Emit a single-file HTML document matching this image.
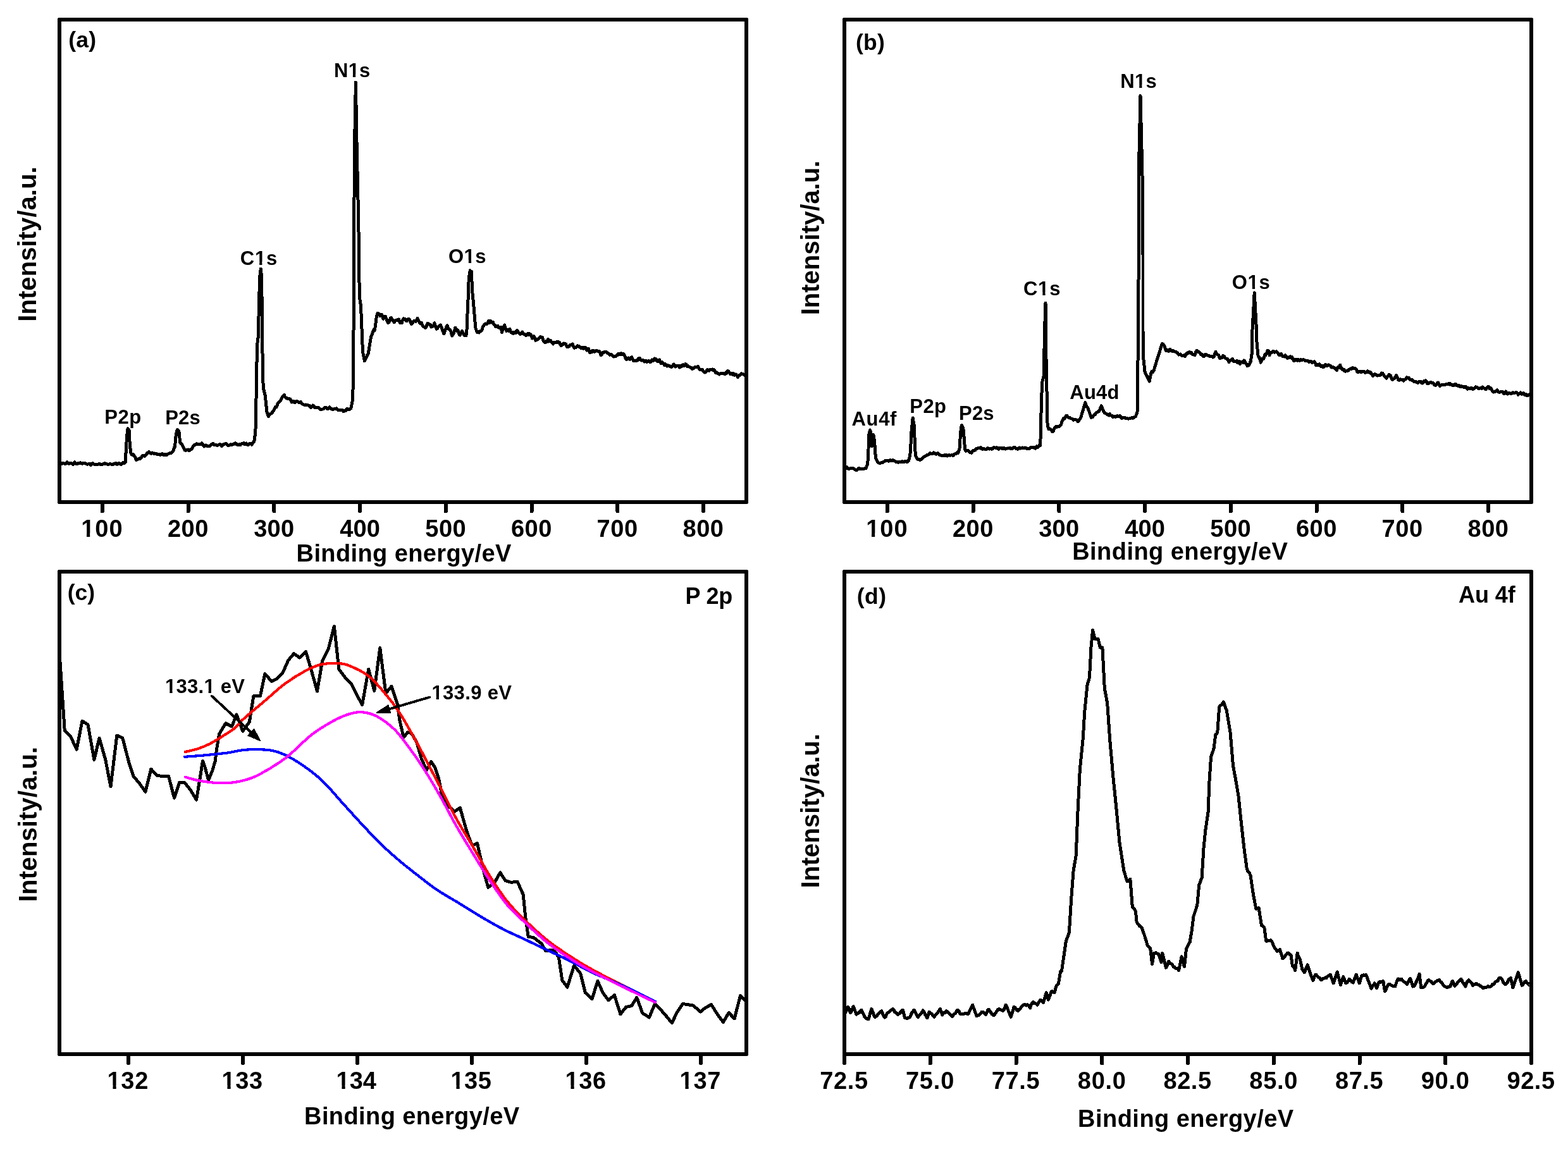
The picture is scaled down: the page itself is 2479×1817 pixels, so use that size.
<!DOCTYPE html><html><head><meta charset="utf-8"><title>XPS spectra</title>
<style>html,body{margin:0;padding:0;background:#fff;overflow:hidden;}svg{display:block;}text{font-family:'Liberation Sans', Arial, Helvetica, sans-serif;font-weight:bold;fill:#000;}</style></head><body>
<svg width="2479" height="1817" viewBox="0 0 2479 1817" shape-rendering="crispEdges">
<rect x="0" y="0" width="2479" height="1817" fill="#fff"/>
<rect x="94" y="31" width="1086" height="763" fill="none" stroke="#000" stroke-width="6" stroke-linejoin="round"/>
<rect x="1335" y="31" width="1086" height="763" fill="none" stroke="#000" stroke-width="6" stroke-linejoin="round"/>
<rect x="94" y="903.5" width="1086" height="763.5" fill="none" stroke="#000" stroke-width="6" stroke-linejoin="round"/>
<rect x="1335" y="903.5" width="1086" height="763.5" fill="none" stroke="#000" stroke-width="6" stroke-linejoin="round"/>
<path d="M161.9 794 V808.5 M297.6 794 V808.5 M433.4 794 V808.5 M569.1 794 V808.5 M704.9 794 V808.5 M840.6 794 V808.5 M976.4 794 V808.5 M1112.1 794 V808.5 " stroke="#000" stroke-width="6" stroke-linecap="round" fill="none"/>
<clipPath id="f1"><path clip-rule="evenodd" d="M0 0H2479V1817H0Z M129.62 843.32H137.00V850.00H129.62Z M142.21 843.32H149.11V850.00H142.21Z"/></clipPath>
<text x="128.13" y="848.5" font-size="38" letter-spacing="1.03" clip-path="url(#f1)">100</text>
<text x="264.96" y="848.5" font-size="38" letter-spacing="0.49">200</text>
<text x="401.15" y="848.5" font-size="38" letter-spacing="0.26">300</text>
<text x="537.20" y="848.5" font-size="38" letter-spacing="0.12">400</text>
<text x="672.36" y="848.5" font-size="38" letter-spacing="0.41">500</text>
<text x="807.88" y="848.5" font-size="38" letter-spacing="0.52">600</text>
<text x="943.39" y="848.5" font-size="38" letter-spacing="0.65">700</text>
<text x="1079.57" y="848.5" font-size="38" letter-spacing="0.43">800</text>
<path d="M1402.9 794 V808.5 M1538.6 794 V808.5 M1674.4 794 V808.5 M1810.1 794 V808.5 M1945.9 794 V808.5 M2081.6 794 V808.5 M2217.4 794 V808.5 M2353.1 794 V808.5 " stroke="#000" stroke-width="6" stroke-linecap="round" fill="none"/>
<clipPath id="f2"><path clip-rule="evenodd" d="M0 0H2479V1817H0Z M1370.62 843.32H1378.00V850.00H1370.62Z M1383.21 843.32H1390.11V850.00H1383.21Z"/></clipPath>
<text x="1369.13" y="848.5" font-size="38" letter-spacing="1.03" clip-path="url(#f2)">100</text>
<text x="1505.96" y="848.5" font-size="38" letter-spacing="0.49">200</text>
<text x="1642.15" y="848.5" font-size="38" letter-spacing="0.26">300</text>
<text x="1778.20" y="848.5" font-size="38" letter-spacing="0.12">400</text>
<text x="1913.36" y="848.5" font-size="38" letter-spacing="0.41">500</text>
<text x="2048.88" y="848.5" font-size="38" letter-spacing="0.52">600</text>
<text x="2184.39" y="848.5" font-size="38" letter-spacing="0.65">700</text>
<text x="2320.57" y="848.5" font-size="38" letter-spacing="0.43">800</text>
<path d="M203 1667 V1681.5 M384 1667 V1681.5 M565 1667 V1681.5 M746 1667 V1681.5 M927 1667 V1681.5 M1108 1667 V1681.5 " stroke="#000" stroke-width="6" stroke-linecap="round" fill="none"/>
<clipPath id="f3"><path clip-rule="evenodd" d="M0 0H2479V1817H0Z M171.06 1716.62H178.44V1723.30H171.06Z M183.65 1716.62H190.54V1723.30H183.65Z"/></clipPath>
<text x="169.57" y="1721.8" font-size="38" letter-spacing="0.66" clip-path="url(#f3)">132</text>
<clipPath id="f4"><path clip-rule="evenodd" d="M0 0H2479V1817H0Z M352.06 1716.62H359.44V1723.30H352.06Z M364.65 1716.62H371.54V1723.30H364.65Z"/></clipPath>
<text x="350.57" y="1721.8" font-size="38" letter-spacing="0.58" clip-path="url(#f4)">133</text>
<clipPath id="f5"><path clip-rule="evenodd" d="M0 0H2479V1817H0Z M533.06 1716.62H540.44V1723.30H533.06Z M545.65 1716.62H552.54V1723.30H545.65Z"/></clipPath>
<text x="531.57" y="1721.8" font-size="38" clip-path="url(#f5)">134</text>
<clipPath id="f6"><path clip-rule="evenodd" d="M0 0H2479V1817H0Z M714.06 1716.62H721.44V1723.30H714.06Z M726.65 1716.62H733.54V1723.30H726.65Z"/></clipPath>
<text x="712.57" y="1721.8" font-size="38" letter-spacing="0.42" clip-path="url(#f6)">135</text>
<clipPath id="f7"><path clip-rule="evenodd" d="M0 0H2479V1817H0Z M895.06 1716.62H902.44V1723.30H895.06Z M907.65 1716.62H914.54V1723.30H907.65Z"/></clipPath>
<text x="893.57" y="1721.8" font-size="38" letter-spacing="0.58" clip-path="url(#f7)">136</text>
<clipPath id="f8"><path clip-rule="evenodd" d="M0 0H2479V1817H0Z M1076.06 1716.62H1083.44V1723.30H1076.06Z M1088.65 1716.62H1095.54V1723.30H1088.65Z"/></clipPath>
<text x="1074.57" y="1721.8" font-size="38" letter-spacing="0.73" clip-path="url(#f8)">137</text>
<path d="M1335 1667 V1681.5 M1470.8 1667 V1681.5 M1606.5 1667 V1681.5 M1742.2 1667 V1681.5 M1878 1667 V1681.5 M2013.8 1667 V1681.5 M2149.5 1667 V1681.5 M2285.2 1667 V1681.5 M2421 1667 V1681.5 " stroke="#000" stroke-width="6" stroke-linecap="round" fill="none"/>
<text x="1296.17" y="1721.8" font-size="38" letter-spacing="0.64">72.5</text>
<text x="1431.92" y="1721.8" font-size="38" letter-spacing="0.81">75.0</text>
<text x="1567.67" y="1721.8" font-size="38" letter-spacing="0.64">77.5</text>
<text x="1703.84" y="1721.8" font-size="38" letter-spacing="0.67">80.0</text>
<text x="1839.59" y="1721.8" font-size="38" letter-spacing="0.50">82.5</text>
<text x="1975.34" y="1721.8" font-size="38" letter-spacing="0.67">85.0</text>
<text x="2111.09" y="1721.8" font-size="38" letter-spacing="0.50">87.5</text>
<text x="2246.73" y="1721.8" font-size="38" letter-spacing="0.71">90.0</text>
<text x="2382.48" y="1721.8" font-size="38" letter-spacing="0.54">92.5</text>
<text x="468.56" y="887.7" font-size="38" letter-spacing="0.39">Binding energy/eV</text>
<text x="1695.16" y="884.7" font-size="38" letter-spacing="0.45">Binding energy/eV</text>
<text x="481.06" y="1777.8" font-size="38" letter-spacing="0.40">Binding energy/eV</text>
<text x="1704.06" y="1782" font-size="38" letter-spacing="0.47">Binding energy/eV</text>
<text transform="translate(56.9 508.68) rotate(-90)" x="0" y="0" font-size="40" letter-spacing="0.06">Intensity/a.u.</text>
<text transform="translate(1294.9 498.28) rotate(-90)" x="0" y="0" font-size="40">Intensity/a.u.</text>
<text transform="translate(57.6 1426.28) rotate(-90)" x="0" y="0" font-size="40" letter-spacing="0.06">Intensity/a.u.</text>
<text transform="translate(1294.9 1404.58) rotate(-90)" x="0" y="0" font-size="40">Intensity/a.u.</text>
<text x="108.23" y="75" font-size="35.5" letter-spacing="0.22">(a)</text>
<text x="1353.03" y="78.6" font-size="35.5" letter-spacing="0.20">(b)</text>
<text x="106.73" y="948.5" font-size="35.5" letter-spacing="-0.03">(c)</text>
<text x="1354.83" y="955" font-size="35.5" letter-spacing="0.40">(d)</text>
<text x="1083.39" y="954.7" font-size="36" letter-spacing="-0.18">P 2p</text>
<text x="2306.00" y="952.9" font-size="36" letter-spacing="-0.07">Au 4f</text>
<clipPath id="f9"><path clip-rule="evenodd" d="M0 0H2479V1817H0Z M551.70 117.44H557.89V123.40H551.70Z M562.14 117.44H567.93V123.40H562.14Z"/></clipPath>
<text x="528.03" y="121.9" font-size="31" letter-spacing="0.24" clip-path="url(#f9)">N1s</text>
<clipPath id="f10"><path clip-rule="evenodd" d="M0 0H2479V1817H0Z M403.96 414.04H410.14V420.00H403.96Z M414.39 414.04H420.18V420.00H414.39Z"/></clipPath>
<text x="379.73" y="418.5" font-size="31" letter-spacing="0.79" clip-path="url(#f10)">C1s</text>
<clipPath id="f11"><path clip-rule="evenodd" d="M0 0H2479V1817H0Z M734.67 411.34H740.85V417.30H734.67Z M745.10 411.34H750.89V417.30H745.10Z"/></clipPath>
<text x="709.03" y="415.8" font-size="31" letter-spacing="0.47" clip-path="url(#f11)">O1s</text>
<text x="165.23" y="670.1" font-size="31" letter-spacing="0.50">P2p</text>
<text x="261.23" y="670.9" font-size="31" letter-spacing="0.19">P2s</text>
<text x="1346.43" y="672.6" font-size="31" letter-spacing="0.71">Au4f</text>
<text x="1438.33" y="652.6" font-size="31" letter-spacing="0.40">P2p</text>
<text x="1516.03" y="663.9" font-size="31" letter-spacing="0.19">P2s</text>
<clipPath id="f12"><path clip-rule="evenodd" d="M0 0H2479V1817H0Z M1642.16 462.14H1648.34V468.10H1642.16Z M1652.59 462.14H1658.38V468.10H1652.59Z"/></clipPath>
<text x="1617.93" y="466.6" font-size="31" letter-spacing="0.79" clip-path="url(#f12)">C1s</text>
<text x="1691.23" y="630.7" font-size="31" letter-spacing="0.27">Au4d</text>
<clipPath id="f13"><path clip-rule="evenodd" d="M0 0H2479V1817H0Z M1795.00 134.44H1801.19V140.40H1795.00Z M1805.44 134.44H1811.23V140.40H1805.44Z"/></clipPath>
<text x="1771.23" y="138.9" font-size="31" letter-spacing="0.34" clip-path="url(#f13)">N1s</text>
<clipPath id="f14"><path clip-rule="evenodd" d="M0 0H2479V1817H0Z M1973.67 452.24H1979.85V458.20H1973.67Z M1984.10 452.24H1989.89V458.20H1984.10Z"/></clipPath>
<text x="1947.83" y="456.7" font-size="31" letter-spacing="0.67" clip-path="url(#f14)">O1s</text>
<clipPath id="f15"><path clip-rule="evenodd" d="M0 0H2479V1817H0Z M262.10 1091.44H268.28V1097.40H262.10Z M272.54 1091.44H278.33V1097.40H272.54Z M323.44 1091.44H329.62V1097.40H323.44Z M333.88 1091.44H339.67V1097.40H333.88Z"/></clipPath>
<text x="261.05" y="1095.9" font-size="31" letter-spacing="0.25" clip-path="url(#f15)">133.1 eV</text>
<clipPath id="f16"><path clip-rule="evenodd" d="M0 0H2479V1817H0Z M683.50 1101.74H689.68V1107.70H683.50Z M693.94 1101.74H699.73V1107.70H693.94Z"/></clipPath>
<text x="682.45" y="1106.2" font-size="31" letter-spacing="0.35" clip-path="url(#f16)">133.9 eV</text>
<path d="M95 733 L96.4 734.1 L97.7 733 L99.1 732.4 L100.5 732.7 L101.8 733 L103.2 733.6 L104.5 732.5 L105.9 731 L107.3 732.4 L108.6 733.2 L110 732.6 L111.3 733 L112.7 732.6 L114 733.1 L115.3 734.4 L116.7 732.7 L118 731 L119.3 732.1 L120.6 733.9 L122 733.6 L123.3 732.3 L124.6 732.4 L126 732.1 L127.3 731.7 L128.6 732.6 L129.9 733.1 L131.3 732.8 L132.6 732.3 L133.9 732.3 L135.3 732.8 L136.6 733.5 L138 734.3 L139.4 733.9 L140.8 733.2 L142.1 733.9 L143.5 735.2 L144.9 733.5 L146.3 732.5 L147.7 733.7 L149.1 734.4 L150.5 734.8 L151.9 734.3 L153.2 734.1 L154.6 734.6 L156 733.6 L157.4 733.4 L158.8 734.5 L160.2 735 L161.6 734.3 L163 733.8 L164.3 733 L165.7 732.3 L167.1 733.8 L168.5 733.7 L169.8 734.2 L171.2 734.5 L172.5 733.9 L173.8 733.5 L175.2 733.8 L176.5 734.5 L177.8 734.6 L179.2 733.9 L180.5 733.9 L181.8 733.2 L183.2 732.4 L184.5 734.2 L185.9 733.9 L187.3 732.8 L188.8 732.8 L190.2 734.1 L191.6 734.3 L193 732.6 L194.3 731.6 L195.7 732.5 L197 732.1 L198.3 730.5 L199.4 709.2 L200.5 691.1 L202 677.8 L203.1 680.5 L204.2 680.5 L205.3 703.9 L206.9 716.7 L208.3 718.9 L209.7 719.5 L211.1 718.8 L212.5 721.6 L214 723.4 L215.4 727.3 L216.7 726.3 L218 726.4 L219.2 725.7 L220.5 725 L221.8 725.2 L223.1 724.3 L224.4 722 L225.8 720.4 L227.1 720.9 L228.4 721.3 L229.8 720.1 L231.1 719.1 L232.4 716.7 L233.7 716.3 L235.1 714.9 L236.4 714.9 L237.8 716.6 L239.1 717.2 L240.4 715.9 L241.8 716.8 L243.1 717.5 L244.4 717 L245.8 717.3 L247.1 717 L248.4 718.4 L249.7 719 L251 718.4 L252.4 718.6 L253.7 719.3 L255 718.4 L256.4 717.7 L257.7 719.1 L259 719.9 L260.4 718.4 L261.7 718.5 L263.1 719.8 L264.4 718.8 L265.8 717.8 L267.2 717.1 L268.6 716.4 L270.1 716.8 L271.5 715.7 L272.9 714.5 L274.1 712.4 L275.4 708.2 L276.6 706 L278.2 687.9 L280.3 679.4 L281.6 680.7 L283 682.6 L284.6 699.6 L286.2 701.8 L287.8 702.8 L289.1 705.6 L290.5 708.2 L291.8 711.5 L293.1 712.4 L294.5 711.8 L295.9 711.5 L297.4 711 L298.8 712.8 L300.2 711.9 L301.6 710.3 L303 710.2 L304.3 707.6 L305.6 705.2 L307 703.9 L308.3 704 L309.6 702.6 L311 701.6 L312.3 702.6 L313.6 702.8 L315 702.2 L316.3 702.1 L317.6 702.3 L318.9 700.9 L320.2 702.1 L321.6 704.4 L322.9 706 L324.2 704.9 L325.6 704 L326.9 705.3 L328.2 706 L329.6 705.7 L331.1 705.7 L332.6 704 L334 702.8 L335.4 702.4 L336.8 701.2 L338.2 703.2 L339.6 703.4 L341 703.1 L342.4 704.1 L343.8 704.4 L345.2 703.9 L346.6 702.8 L348 702.8 L349.4 703.7 L350.8 705.6 L352.2 703.6 L353.5 702.7 L354.9 702.6 L356.3 701.3 L357.7 701.2 L359.1 703.1 L360.4 704.7 L361.8 704.5 L363.2 703.4 L364.6 702.8 L366 703.8 L367.4 703.1 L368.7 702.6 L370.1 702.1 L371.5 700.9 L372.9 700.9 L374.3 702.8 L375.6 703.4 L377 703.4 L378.4 702.2 L379.8 703.7 L381.2 702 L382.6 701.7 L383.9 701.9 L385.3 700.7 L386.7 702.6 L388.1 702.5 L389.5 701.1 L390.9 703.4 L392.3 703.9 L393.6 701.9 L395 701.4 L396.4 701.7 L397.8 703.2 L399 701.7 L400.2 699.6 L401.4 698.7 L402.6 694.4 L404.6 671.2 L405.2 613.1 L406.1 568.5 L407.1 539.5 L408.5 531.7 L409.4 477.5 L411 434.9 L412.3 425.2 L413.7 438.7 L414.6 524 L415.2 574.3 L416.2 613.1 L419.1 624.7 L422 651.8 L424.3 658.6 L425.8 655.8 L427.3 654.7 L428.8 653.8 L430.1 653 L431.4 650.2 L432.6 649.1 L433.9 646.6 L435.2 643.8 L436.5 644.1 L437.9 641.9 L439.4 637.2 L440.9 636.3 L442.3 634.4 L443.8 633.3 L445.2 629.8 L446.7 627.2 L448.2 625.7 L449.5 624.5 L450.8 628.1 L452 629.5 L453.3 629.2 L454.6 630.6 L455.9 630.5 L457.3 630.2 L458.7 631 L460.1 633.5 L461.4 636.1 L462.8 635.3 L464.2 634.3 L465.6 636.3 L467 636.1 L468.4 634.6 L469.8 634.9 L471.1 635.3 L472.5 636.5 L473.9 636.8 L475.3 635.6 L476.7 637.6 L478.1 638.6 L479.5 639.3 L480.8 640.2 L482.2 640.7 L483.6 640 L485 640.2 L486.4 640.6 L487.8 641.3 L489.1 641.1 L490.5 643.9 L491.9 644.4 L493.3 642.7 L494.6 640.9 L496 641.8 L497.4 644.6 L498.8 644.3 L500.2 644.5 L501.5 644.4 L502.9 644.8 L504.3 645 L505.7 647.2 L507.1 647.3 L508.5 647.5 L509.8 647.1 L511.2 646.7 L512.6 645 L514 644.3 L515.4 644.3 L516.8 645.3 L518.2 646.9 L519.5 645.5 L520.9 643.8 L522.3 646 L523.7 646 L525.1 647.5 L526.5 647.6 L527.9 646.6 L529.2 646.6 L530.6 646.5 L532 645.9 L533.4 647.4 L534.8 648.9 L536.2 649 L537.6 648.3 L538.9 648 L540.3 648.6 L541.7 648.3 L543.1 650.8 L544.4 649.7 L545.7 649.8 L547 648.7 L548.3 646.4 L549.5 646.7 L550.8 647.7 L552.1 647.5 L553.4 646.8 L554.7 646 L557.6 632.4 L558.6 593.7 L559.2 492.4 L559.8 355.6 L560.4 236.4 L562.4 130.2 L564.1 230.5 L566.2 323.6 L567.6 399.3 L568.2 469.1 L570.5 483.6 L573.5 556.4 L576.4 570.9 L577.9 567 L579.3 565 L580.8 561.1 L582.2 559.3 L586.5 533.1 L590.9 521.5 L592 522.7 L593.2 517.1 L595.3 501.2 L596.9 495.3 L598.5 496.9 L599.8 496.7 L601.1 499.9 L602.5 498.1 L603.8 497.4 L606 504.3 L607.6 502.5 L609.2 500.1 L612.4 508.6 L613.7 510.6 L614.9 509.8 L616.2 507.3 L617.4 502.8 L618.7 502.7 L620.1 506.4 L621.6 506.6 L623 509.7 L624.2 508.3 L625.5 506.8 L626.8 506.9 L628 505.5 L629.2 505.8 L630.5 504.9 L632.6 510.7 L633.9 509.7 L635.2 510.9 L636.6 505.9 L637.9 503.8 L639.1 505.4 L640.4 504.6 L641.6 505.6 L642.9 507.9 L644.1 505.7 L645.4 504.3 L646.7 504.2 L648 506 L649.4 510.4 L650.7 512.3 L652 511.5 L653.4 508.7 L654.7 507.5 L656 507.2 L657.3 508.3 L658.6 506.5 L660 503.3 L661.3 505.9 L662.5 508.6 L663.8 511.1 L665 511.2 L666.3 510.6 L667.5 513.7 L668.8 516.1 L670.4 516.9 L672 518.2 L673.4 518 L674.8 513.7 L676.2 511.3 L677.6 512.6 L678.9 512.8 L680.2 513.1 L681.6 517.1 L682.9 516.7 L684.2 516 L685.6 515.3 L686.9 510.7 L690.1 520.3 L691.4 519.3 L692.7 517.3 L693.9 515.7 L695.2 514.6 L696.5 513.9 L701.8 527.8 L703.1 524.2 L704.5 520.4 L705.8 517 L707.1 515 L708.4 518.2 L709.6 520.4 L710.9 521.3 L712.1 522.5 L713.4 525.4 L714.6 531 L715.9 529.2 L717.2 526.6 L718.6 523.2 L719.9 518.2 L721.1 523.1 L722.4 523.3 L723.6 521.9 L724.9 525.2 L726.1 528.6 L727.4 529.9 L729 526 L730.5 523.5 L731.8 526.3 L733.1 529.1 L734.3 530.6 L735.6 530.5 L736.9 531 L738.5 517.1 L739.1 492.6 L740.1 472.4 L741.2 440.5 L743.3 427.7 L744.4 430.1 L745.5 429.8 L746.5 458.6 L748.6 479.9 L750.8 506.5 L751.8 518.2 L753.2 522.7 L754.7 525.4 L756.1 524.6 L757.5 525.9 L759 523.7 L760.4 523.5 L762 521.5 L763.6 516.1 L764.9 515.1 L766.2 512.5 L767.6 511.9 L768.9 512.9 L770.2 511.9 L771.5 509.4 L772.7 507.7 L774 510.5 L775.3 507.5 L776.6 510.1 L778 509.4 L779.3 509.1 L780.6 512.9 L782 513.6 L783.4 516.5 L784.8 516.1 L786 515.9 L787.3 515.7 L788.5 518.1 L789.8 518.9 L791 517.3 L792.3 517.1 L793.4 525.6 L797.6 513.9 L800.8 523.5 L802.1 521.6 L803.5 521.7 L804.8 523.8 L806.1 520.3 L807.5 524.9 L808.8 526.3 L810.1 525.4 L811.5 527.8 L812.8 525.7 L814.1 526.4 L815.3 526.8 L816.6 523.4 L817.9 522.4 L819.2 525.2 L820.4 526 L821.7 528.2 L822.9 528.1 L824.2 527.8 L825.7 525.1 L827.1 527.6 L828.5 528.6 L830 528.5 L831.5 530.6 L833 529.3 L834.5 527.2 L836 529.9 L837.3 527.8 L838.7 528.5 L840 530.9 L841.3 535 L842.7 534.3 L844 531.7 L845.3 534.5 L846.7 538.4 L848 537.1 L849.3 537.3 L850.6 535.9 L852 534.7 L853.3 534.1 L854.6 532.4 L855.9 533.9 L857.2 533.1 L858.5 537.3 L859.7 539.8 L861 540.5 L862.3 541.9 L863.6 539.7 L865 540.2 L866.3 536.3 L867.7 540.1 L869.1 539.4 L870.5 538.7 L871.9 541.1 L873.2 542.3 L874.6 543.9 L875.9 541.1 L877.2 541.9 L878.6 541.5 L879.9 541.9 L881.4 540.1 L882.8 540.8 L884.3 541.5 L885.8 544.7 L887.2 546.8 L888.7 544.3 L890.1 544.5 L891.6 542.9 L893 543.8 L894.5 543.8 L895.9 547.5 L897.2 548.7 L898.5 548.6 L899.7 548 L901 545.8 L902.3 545.1 L903.7 545.5 L905.2 544 L906.6 547.5 L908.1 550.3 L909.5 549.1 L910.8 549.4 L912.1 547.5 L913.4 546.8 L914.6 548.2 L915.9 547.6 L917.2 549.4 L918.5 550.3 L919.8 549.1 L921.1 551.1 L922.4 551.3 L923.6 549.6 L924.9 550.6 L926.2 549.9 L927.6 554.2 L929 552.7 L930.4 551.4 L931.8 556.3 L933.1 557.7 L934.5 556.4 L935.8 554.7 L937.1 556.2 L938.5 554.7 L939.8 556.3 L941.1 555.8 L942.5 554.3 L943.8 554.4 L945.1 555.3 L946.5 555.2 L947.8 555.5 L950.2 561.9 L951.6 560.7 L953 557 L954.4 557.4 L955.8 556.3 L957.1 556.1 L958.5 556.6 L959.8 558 L961.1 559.1 L962.5 559 L963.8 561.1 L965.1 560 L966.5 560.4 L967.8 561.7 L969.1 563.1 L970.5 564.2 L971.8 563.7 L973.1 563.7 L974.5 562.7 L975.8 561.9 L977.1 559.6 L978.4 559.7 L979.7 560.9 L981 559.7 L982.2 558.8 L983.5 560.4 L984.8 559.1 L986.1 560.3 L987.7 562.4 L989.3 567.5 L990.6 568.4 L992 567.5 L993.3 566.1 L994.6 567.5 L996 568.1 L997.3 565.8 L998.7 564.8 L1000 567 L1001.3 570.2 L1002.7 570.5 L1004 570.1 L1005.3 570 L1006.7 570.4 L1008 570 L1009.3 567.2 L1010.7 566.2 L1012 567.5 L1013.3 569.8 L1014.7 570.1 L1016 569.2 L1017.3 570.4 L1018.7 571.9 L1020 570.3 L1021.3 570.1 L1022.7 572.7 L1024 571.5 L1025.3 570.7 L1026.6 572.1 L1028 572.7 L1029.3 571.1 L1030.6 569.1 L1031.9 570.9 L1033.3 569.4 L1034.6 566.9 L1035.9 569.9 L1037.2 568 L1038.6 570.4 L1039.9 571.8 L1041.2 570.2 L1042.6 569 L1043.9 572.3 L1045.2 574.8 L1046.6 572.8 L1047.9 573.9 L1049.2 575.4 L1050.6 577.3 L1051.9 575.9 L1053.2 577.2 L1054.6 579 L1055.9 577.9 L1057.2 578.3 L1058.6 578.7 L1059.9 579.7 L1061.2 580.6 L1062.6 579.8 L1063.9 577.9 L1065.2 576 L1066.6 577.9 L1067.9 580 L1069.2 579.3 L1070.6 578.3 L1071.9 578 L1073.2 579.6 L1074.6 581.1 L1075.9 578.7 L1077.2 579.8 L1078.6 577.4 L1079.9 576.8 L1081.2 578.7 L1082.6 577.6 L1083.9 575.5 L1085.2 576.6 L1086.6 579.4 L1087.9 578.7 L1089.2 579.8 L1090.5 580.5 L1091.8 581 L1093.2 581.6 L1094.5 583.3 L1095.8 582.7 L1097.1 581.9 L1098.5 580.2 L1099.8 580.4 L1101.1 580.9 L1102.5 580.5 L1103.8 579.5 L1105.1 583 L1106.5 584.5 L1107.8 584.2 L1109.1 584.1 L1110.5 584.7 L1111.8 586.7 L1113.1 588.5 L1114.5 589.1 L1115.8 588.7 L1117.1 586.5 L1118.5 584.8 L1119.8 585.1 L1121.1 586.1 L1122.5 584.7 L1123.8 584.8 L1125.1 584.1 L1126.5 583.9 L1127.8 585.9 L1129.1 584.7 L1130.5 587.9 L1131.8 589.9 L1133.1 588.7 L1134.5 590.9 L1135.8 590.7 L1137.1 592 L1138.5 590.8 L1139.8 590.9 L1141.1 590.9 L1142.5 590.5 L1143.8 590.4 L1145.1 591.1 L1146.5 591.7 L1147.8 589.1 L1149.1 590 L1150.4 586.8 L1151.8 587.1 L1153.1 588.9 L1154.4 591.5 L1155.7 591.4 L1157.1 590.8 L1158.4 592.5 L1159.7 590.7 L1161 593.2 L1162.4 592.1 L1163.7 591.9 L1165 593.9 L1166.4 596.6 L1167.7 593.9 L1169.2 594 L1170.6 592.6 L1172.1 590.9 L1173.6 591.2 L1175 591.7 L1176.5 592.3 L1177.8 593.8 L1179 592" fill="none" stroke="#000" stroke-width="5" stroke-linejoin="round" stroke-linecap="round"/>
<path d="M1336 740.2 L1337.4 740.3 L1338.7 738.8 L1340.1 740.3 L1341.5 741.5 L1342.9 741.3 L1344.2 740.6 L1345.6 740.7 L1346.9 740.4 L1348.3 740.4 L1349.6 741 L1350.9 741.7 L1352.3 743 L1353.6 743.6 L1355 743 L1356.3 742.3 L1357.7 740.5 L1359.1 741 L1360.6 741.4 L1362 741 L1363.4 741.9 L1364.8 742 L1366.3 741.2 L1367.7 740.5 L1369.1 740.7 L1370.4 736.8 L1371.7 734.3 L1372.8 715.2 L1373.9 686.4 L1375.5 680 L1377.1 685.4 L1378.5 706 L1380.8 687.5 L1382.6 697 L1383.6 715.2 L1385 725.8 L1386.1 728.1 L1387.2 730.1 L1388.5 731.9 L1389.8 732.2 L1391.2 732 L1392.5 732.2 L1393.9 731.3 L1395.3 731.7 L1396.8 730.4 L1398.2 729.4 L1399.6 728.7 L1401 728 L1402.3 728.3 L1403.7 728.3 L1405 729.4 L1406.3 728.4 L1407.7 727.7 L1409 728.5 L1410.4 728.8 L1411.7 727.4 L1413.1 728.3 L1414.5 728.9 L1415.9 730.1 L1417.3 730.5 L1418.6 730.6 L1420 731.4 L1421.4 730.5 L1422.8 730.1 L1424.1 730.4 L1425.5 730.1 L1426.8 729.4 L1428.2 730.7 L1429.5 730.8 L1430.8 729 L1432.2 729.2 L1433.5 730.4 L1434.9 730.4 L1436.2 729 L1438.8 720.5 L1439.9 704.5 L1440.9 683.2 L1443.1 660.9 L1445.2 672.6 L1446.3 699.2 L1447.3 720.5 L1448.7 722.5 L1450 725.8 L1451.4 726.3 L1452.8 726.1 L1454.2 727.4 L1455.5 726.7 L1456.9 726.2 L1458.2 724.9 L1459.6 723.7 L1460.9 722.5 L1462.2 721.5 L1463.4 721.2 L1464.7 720.2 L1466 719.4 L1467.5 719.1 L1469 718.5 L1470.4 716.7 L1471.9 717.5 L1473.4 717.3 L1474.7 717.7 L1476.1 715.7 L1477.4 716.1 L1478.8 717.5 L1480.1 718.4 L1481.4 717.4 L1482.8 716.5 L1484.1 717.8 L1485.4 719.2 L1486.8 719.9 L1488.1 720.2 L1489.4 720.5 L1490.7 720.7 L1492 720.2 L1493.4 719.5 L1494.7 720.5 L1496.1 719.5 L1497.5 721.1 L1499 720.3 L1500.4 719.7 L1501.8 720.2 L1503.2 720 L1504.7 719.4 L1506.1 720.3 L1507.5 720 L1509 718 L1510.5 717.6 L1511.9 717.1 L1513.4 715.2 L1514.9 716.2 L1517.1 708.8 L1518.7 683.2 L1520.3 672.6 L1521.6 674.5 L1522.9 677.9 L1524.5 696 L1525.6 710.9 L1527 713.4 L1528.4 712.1 L1529.8 712 L1531.1 713.3 L1532.4 714.6 L1533.6 715.6 L1534.9 715.3 L1536.2 716.2 L1537.5 713 L1538.9 712.9 L1540.2 712 L1541.6 712 L1543 709.8 L1544.3 709.4 L1545.7 708.9 L1547 708.9 L1548.4 708.9 L1549.7 707.8 L1551.1 707.7 L1552.3 710.2 L1553.6 710.3 L1554.8 709.7 L1556.1 709.7 L1557.3 710.6 L1558.6 710.9 L1560 709.9 L1561.4 708.7 L1562.9 709.8 L1564.3 710.1 L1565.7 709.1 L1567.2 710.1 L1568.6 710 L1570 708.5 L1571.4 707.2 L1572.8 708 L1574.2 708.3 L1575.6 707.5 L1577 709.3 L1578.5 710.2 L1579.9 708.4 L1581.3 708 L1582.7 708.9 L1584.1 709.1 L1585.5 708.7 L1586.9 709.5 L1588.2 708.7 L1589.6 710.1 L1590.9 709.4 L1592.3 708.9 L1593.6 709.1 L1595 708.7 L1596.3 709.1 L1597.6 708.8 L1599 709.6 L1600.3 709.4 L1601.7 707.9 L1603 707.2 L1604.3 707.1 L1605.7 708.7 L1607 709.9 L1608.4 710.1 L1609.7 710.2 L1611.1 708 L1612.4 708.6 L1613.7 709.1 L1615.1 708.2 L1616.4 708 L1617.7 709 L1619.1 708.5 L1620.4 707.9 L1621.8 708.3 L1623.1 709.3 L1624.4 710 L1625.8 709.9 L1627.1 709.9 L1628.4 708.4 L1629.8 707 L1631.1 707.4 L1632.5 707.4 L1633.8 707.2 L1635.1 708.1 L1636.5 709.2 L1637.8 707.8 L1639.2 705.9 L1640.5 707.3 L1641.9 706.1 L1643.2 704.1 L1644.6 704.4 L1645.2 690 L1645.8 660 L1646.8 626 L1647.8 604 L1650.3 594 L1650.2 578 L1651.2 545 L1651.8 515 L1653 479 L1653.6 505 L1653.9 560 L1654.5 600 L1655.2 625 L1655.4 662 L1656.5 674 L1658.2 678.9 L1659.8 679 L1661.1 678.6 L1662.3 680.4 L1663.6 682.5 L1664.9 682.4 L1666.6 678.1 L1668.3 675.6 L1669.7 674.2 L1671 675.5 L1672.4 674.5 L1673.7 674.7 L1675.1 673.9 L1676.4 672.4 L1677.7 671 L1678.9 667.2 L1680.2 663.7 L1681.5 661.3 L1682.9 662.4 L1684.2 659.9 L1685.6 657.4 L1686.9 657 L1688.3 659.7 L1689.7 660.5 L1691.2 660 L1692.6 661.6 L1694 662 L1695.4 662 L1696.9 664.2 L1698.3 663.2 L1699.8 663 L1701.2 664 L1702.7 664.6 L1704.1 666.7 L1705.6 665.4 L1706.9 662.9 L1708.2 661.2 L1709.4 658.1 L1710.7 653.6 L1715.8 636.6 L1717.2 641.5 L1718.6 643.3 L1720 645.1 L1725.1 660.3 L1726.4 658.9 L1727.6 659.7 L1728.9 656.9 L1730.2 655.7 L1731.4 655.7 L1732.7 653.6 L1734 652 L1735.2 652 L1736.5 650.1 L1737.8 650.2 L1738.9 647.9 L1740.1 644.7 L1741.2 641.7 L1744.6 650.2 L1746 652.8 L1747.4 653.7 L1748.8 654.3 L1750.3 655.2 L1751.7 655.9 L1753.1 657 L1754.4 654.6 L1755.7 656.9 L1757 657.3 L1758.3 657.5 L1759.7 659.4 L1761 658.6 L1762.3 658.5 L1763.6 659.8 L1764.9 658.6 L1766.3 657.5 L1767.6 658.6 L1769 658.6 L1770.3 657.5 L1771.7 658.5 L1773.1 661.5 L1774.4 661.1 L1775.8 660.1 L1777.1 660.4 L1778.5 660.4 L1779.9 662 L1781.2 661.8 L1782.6 661.4 L1783.9 662.2 L1785.3 662 L1786.7 661.2 L1788.2 661.4 L1789.6 660.4 L1791.1 661.3 L1792.5 660.9 L1794 659.2 L1795.4 658.6 L1798 651.9 L1798.8 592.5 L1799.7 499.3 L1800.3 390.9 L1800.9 245.5 L1803 151.5 L1806.1 281.8 L1807 403 L1807 524.2 L1807.9 567.9 L1810.2 589.2 L1811.6 591.9 L1813.1 594.1 L1814.5 597 L1815.8 599.8 L1817.2 603 L1819.8 590.3 L1821.2 587.1 L1822.7 588.3 L1824.1 586 L1827.3 575.4 L1830.5 564.7 L1833.7 555.1 L1836.8 544.5 L1837.9 543.5 L1839 544.5 L1840.6 546.2 L1842.2 550.9 L1843.5 554.7 L1844.8 553.6 L1846 553.1 L1847.3 555.6 L1848.6 554.1 L1849.9 552.2 L1851.2 554.1 L1852.6 555.1 L1853.9 554.1 L1855.2 556 L1856.5 555.8 L1857.9 556.1 L1859.2 556.2 L1860.6 557.4 L1862 558.2 L1863.5 561 L1864.9 560.2 L1866.3 559.9 L1867.7 562.2 L1869.2 562.9 L1870.6 562.8 L1872 561.5 L1873.4 563.4 L1874.8 560.8 L1876.2 558.5 L1877.7 559.1 L1879.1 557.2 L1880.5 556.2 L1881.9 558.3 L1883.3 557.3 L1884.8 560.3 L1886.2 560 L1887.6 561.2 L1889 561.5 L1890.6 556.7 L1892.2 554.1 L1893.6 556.1 L1894.9 556.4 L1896.3 556.9 L1897.7 559.2 L1899.1 561 L1900.4 560.2 L1901.8 562.6 L1903.1 563.7 L1904.5 563 L1905.8 560.1 L1907.1 560.7 L1908.4 561.2 L1909.8 562.2 L1911.1 562.3 L1912.4 563.7 L1913.7 563.3 L1915 563.9 L1916.2 563.2 L1917.5 565 L1918.8 564.7 L1922 556.2 L1923.2 559 L1924.5 560.5 L1925.8 561.2 L1927 562 L1928.2 566.4 L1929.5 566.8 L1930.9 565.4 L1932.3 565.5 L1933.7 562.6 L1935 563.3 L1936.4 565 L1937.7 567 L1939.1 567 L1940.4 567.7 L1941.7 570.1 L1943.1 572.7 L1944.4 570 L1945.8 569.9 L1947.2 568.8 L1948.7 567.4 L1950.1 571.1 L1951.5 571.4 L1952.9 571.1 L1954.2 571.8 L1955.4 570.3 L1956.7 573.6 L1957.9 573.3 L1959.2 571.4 L1960.4 575.4 L1961.7 573.6 L1962.9 572.4 L1964.2 572.4 L1965.4 573.4 L1966.7 570 L1968 571.1 L1969.4 574.4 L1970.8 575.3 L1972.1 578.6 L1973.4 577.2 L1974.8 577.6 L1976.1 574.2 L1977.4 571.1 L1979.5 557.3 L1980 521.7 L1983.2 462.9 L1986.5 521.7 L1987 541.3 L1989.1 562.6 L1990.5 564.8 L1992 568.3 L1993.4 573.2 L1994.8 568.7 L1996.2 567 L1997.6 567.9 L1999.8 560.5 L2001.2 561.3 L2002.6 558.6 L2004 554.1 L2005.6 555 L2007.2 561.5 L2008.5 558.7 L2009.8 557.7 L2011 556.6 L2012.3 555.8 L2013.6 555.1 L2014.9 557.1 L2016.2 556.3 L2017.6 555.8 L2018.9 557.3 L2020.2 558.1 L2021.6 560.9 L2022.9 561.8 L2024.2 561.5 L2025.5 559.7 L2026.8 561.5 L2028 563.7 L2029.3 563.3 L2030.6 564.1 L2032 561.8 L2033.3 563 L2034.6 566 L2035.9 566.4 L2037.3 565.7 L2038.6 564.2 L2039.9 563.8 L2041.3 566 L2042.6 564.8 L2044 566.9 L2045.3 570.4 L2046.7 570.7 L2048 568 L2049.3 568.3 L2050.7 570.2 L2052 568.3 L2053.3 569.2 L2054.6 570.4 L2056 568.7 L2057.3 568.9 L2058.6 569.6 L2060 568.6 L2061.3 569 L2062.6 569.8 L2063.9 570.9 L2065.3 570.9 L2066.6 570.7 L2068 570.5 L2069.4 572.6 L2070.8 571.5 L2072.2 571.1 L2073.6 573 L2075 573.2 L2076.4 572.4 L2077.8 571.7 L2079.2 573.5 L2080.6 577.3 L2081.9 576.2 L2083.3 577.7 L2084.6 577.3 L2085.9 575.9 L2087.2 577.1 L2088.6 579.8 L2089.9 578.2 L2091.2 580.2 L2092.6 580.3 L2093.9 578.2 L2095.2 576.4 L2096.5 578.4 L2097.9 578.7 L2099.2 578.2 L2100.5 577 L2101.9 577.9 L2103.2 578.2 L2104.5 580.2 L2105.8 581.1 L2107.2 580.6 L2108.5 581.9 L2110.1 581.7 L2111.6 583.4 L2113.2 585.7 L2114.6 581.6 L2116 580.2 L2117.4 581.2 L2118.8 577.3 L2120 582.4 L2121.3 582.5 L2122.5 584.7 L2123.8 585.3 L2125.2 584.7 L2126.5 587.2 L2127.8 586.9 L2129.1 586.5 L2130.5 586.4 L2131.8 585.7 L2133.1 584.1 L2134.3 583.7 L2135.6 582.9 L2136.8 583.2 L2138.1 581.9 L2139.3 581.9 L2140.7 582.5 L2142.1 582.6 L2143.4 583.1 L2144.8 585.4 L2146.2 588.6 L2147.6 588.4 L2149 587.4 L2150.3 587.6 L2151.7 588.8 L2153 588.1 L2154.4 587 L2155.7 587 L2157.1 588.5 L2158.4 589.5 L2159.8 588.4 L2161.1 588.8 L2162.5 586.8 L2163.8 588.3 L2165.1 589.2 L2166.4 588.5 L2167.8 589.8 L2169.1 592.2 L2170.4 594.5 L2171.8 592.9 L2173.1 591.8 L2174.4 592 L2175.7 592.6 L2177.1 594.1 L2178.4 594 L2179.9 593.7 L2181.4 594 L2182.8 592.8 L2184.3 590 L2185.8 590.3 L2187.4 592.1 L2188.9 595.1 L2190.5 596.8 L2191.9 598.1 L2193.3 595.9 L2194.7 595 L2196.1 592.2 L2197.4 593.1 L2198.7 594 L2200 599 L2201.3 600.6 L2202.6 599.6 L2203.8 598.9 L2205.1 597.3 L2206.3 595.9 L2207.6 593.8 L2209 596 L2210.3 599.9 L2211.7 601.3 L2213 601 L2214.4 599.8 L2215.7 600.6 L2217.2 600.3 L2218.7 602.2 L2220.1 600.5 L2221.6 600.2 L2223.1 598.7 L2224.3 596.7 L2225.6 597.5 L2226.8 597.1 L2228.1 598.3 L2229.3 600.7 L2230.6 600.1 L2232 600 L2233.3 602.1 L2234.6 602.1 L2235.9 603.8 L2237.3 603.2 L2238.6 603.5 L2240 604.7 L2241.4 605.4 L2242.8 603.8 L2244.2 603.4 L2245.6 603.1 L2247 604.8 L2248.4 606.1 L2249.8 605 L2251.2 602.9 L2252.6 603.5 L2254 601.6 L2255.4 603.1 L2256.8 606.7 L2258.2 606.7 L2259.6 605.6 L2261 604.6 L2262.4 604.4 L2263.8 605.4 L2265.2 605.6 L2266.6 606.3 L2268 608.9 L2269.4 609.3 L2270.8 608.4 L2272.2 605.9 L2273.6 605 L2275 607.9 L2276.4 610.4 L2277.8 609.6 L2279.2 608.4 L2280.6 608.2 L2281.9 608.2 L2283.3 608.5 L2284.6 608.6 L2286 607.8 L2287.3 607.9 L2288.7 607.2 L2290 606.7 L2291.4 607.9 L2292.7 606.3 L2294.1 608 L2295.5 609.2 L2296.9 608.7 L2298.3 609.8 L2299.7 608.3 L2301.1 607.4 L2302.5 609.5 L2303.9 609.1 L2305.2 610.6 L2306.6 609.7 L2307.9 611.2 L2309.2 611.7 L2310.5 610.7 L2311.9 611.3 L2313.2 611 L2314.6 612.3 L2316 611.8 L2317.4 611.5 L2318.8 613.7 L2320.1 615.1 L2321.5 613.4 L2322.9 614 L2324.3 614.8 L2325.7 613.4 L2327.1 613.8 L2328.5 615.7 L2329.9 614.9 L2331.3 614 L2332.7 611.9 L2334.1 612.1 L2335.5 612.4 L2336.9 614 L2338.3 614.8 L2339.7 613.7 L2341.1 613.8 L2342.5 614.4 L2343.9 612 L2345.3 613 L2346.7 614.2 L2348.1 615.3 L2349.5 615.5 L2350.9 612.9 L2352.3 611.6 L2353.7 611.5 L2355.1 614.7 L2356.4 613.2 L2357.8 615.1 L2359.1 617.5 L2360.4 619.7 L2361.7 620.1 L2363.1 619.6 L2364.4 618.4 L2365.7 617.8 L2367.1 616.9 L2368.4 619.3 L2369.7 620.3 L2371 620.1 L2372.4 619.9 L2373.7 619.4 L2375.1 619.1 L2376.5 620.2 L2377.9 622.9 L2379.3 621 L2380.7 618.9 L2382.1 621.3 L2383.5 623.1 L2384.9 621.5 L2386.3 621.3 L2387.7 622.2 L2389.1 622.5 L2390.5 621.1 L2391.9 620.8 L2393.3 621.8 L2394.7 621.7 L2396.1 620.7 L2397.5 620.2 L2398.9 621.9 L2400.3 624.2 L2401.7 622.2 L2403 622.4 L2404.4 620.9 L2405.7 623.2 L2407.1 622.9 L2408.4 621.3 L2409.8 624.2 L2411.1 625 L2412.5 623.5 L2413.8 625.9 L2415 625 L2416.3 625.3 L2417.5 623.8 L2418.8 623.7 L2420 623" fill="none" stroke="#000" stroke-width="5" stroke-linejoin="round" stroke-linecap="round"/>
<path d="M1337.2 1600.3 L1338.8 1596.1 L1340.4 1592.3 L1341.7 1593.8 L1343.1 1598.4 L1344.4 1601.9 L1346 1599.3 L1347.6 1595.5 L1349.2 1591.5 L1354 1604.3 L1355.6 1602.5 L1357.2 1602.3 L1358.8 1600.7 L1360.4 1599 L1362 1597.1 L1363.6 1601.2 L1365.1 1603.8 L1366.7 1607.5 L1368.3 1608.8 L1369.9 1610.6 L1371.5 1611.6 L1373.1 1611.5 L1377.9 1595.5 L1379.3 1599.1 L1380.7 1602.6 L1382.1 1606.6 L1383.5 1608.3 L1385 1607.3 L1386.5 1606.3 L1388 1604.3 L1389.4 1602.7 L1390.9 1601.1 L1392.4 1599.9 L1393.9 1598.7 L1395.5 1603 L1397.1 1606.7 L1398.7 1609.1 L1400.3 1607.6 L1401.9 1603.5 L1403.5 1601.1 L1405.1 1600.8 L1406.7 1599.4 L1408.3 1597.6 L1409.9 1596.7 L1411.5 1595.5 L1413.1 1597.1 L1414.7 1600.5 L1416.2 1600.9 L1417.8 1602.3 L1419.4 1604.3 L1421 1603 L1422.6 1602.6 L1424.2 1599.8 L1425.8 1597.9 L1427.4 1597.1 L1430.6 1609.9 L1432.2 1610 L1433.8 1610.8 L1435.4 1609.8 L1437 1609.5 L1438.6 1608.3 L1440.2 1604.8 L1441.8 1601.3 L1443.4 1599.2 L1445 1597.1 L1446.6 1599.7 L1448.2 1603 L1449.8 1606 L1451.4 1608.3 L1453 1606.2 L1454.6 1604.4 L1456.2 1602.5 L1457.8 1600.3 L1459.4 1597.9 L1461 1600.8 L1462.6 1604.2 L1464.2 1606.8 L1465.8 1609.9 L1469 1600.3 L1470.6 1602 L1472.2 1602.7 L1473.7 1604.1 L1475.3 1606.7 L1476.9 1608.3 L1478.5 1605.6 L1480.1 1603.5 L1481.7 1602.1 L1483.3 1600 L1484.9 1597.7 L1486.5 1595.5 L1489.7 1605.1 L1491.3 1601.8 L1492.9 1601.4 L1494.5 1601.5 L1496.1 1598.7 L1497.7 1600 L1499.3 1601.1 L1500.9 1602.5 L1502.5 1604 L1504.1 1606 L1505.7 1607.5 L1507.2 1605.4 L1508.6 1603.3 L1510.1 1602.8 L1511.6 1600.6 L1513 1598 L1514.5 1597.1 L1515.8 1598.6 L1517.2 1601.6 L1518.5 1603.5 L1520.1 1603.7 L1521.7 1603.8 L1523.3 1603.7 L1524.8 1603.1 L1526.4 1602.1 L1528 1602.9 L1529.6 1603.8 L1531.2 1602.7 L1532.8 1598.7 L1534.4 1595.4 L1536 1592.5 L1537.6 1589.1 L1544 1606.7 L1545.6 1605.8 L1547.2 1605.4 L1548.8 1604.3 L1550.4 1602.7 L1552 1600.4 L1553.6 1600.3 L1555.2 1600.9 L1556.8 1602.5 L1558.4 1604.3 L1560 1601.8 L1561.6 1597.5 L1563.2 1596.3 L1564.8 1599 L1566.4 1600.8 L1568 1603.6 L1569.6 1604.2 L1571.2 1605.9 L1572.8 1604.1 L1574.4 1601.4 L1576 1599 L1577.6 1596.8 L1579.2 1595.5 L1580.8 1596.5 L1582.3 1596.8 L1583.9 1597.8 L1585.5 1598.7 L1587.1 1596.9 L1588.7 1593.2 L1590.3 1589.1 L1591.9 1592 L1593.5 1596.7 L1595.1 1601 L1596.7 1604.3 L1598.3 1608.3 L1603.1 1592.3 L1604.7 1593.2 L1606.3 1595.7 L1607.9 1597.7 L1609.5 1598.7 L1611.1 1596.3 L1612.7 1595.5 L1614.3 1592.9 L1615.9 1591 L1617.5 1589.1 L1619.1 1588.8 L1620.7 1588.4 L1622.3 1590 L1623.9 1588.9 L1625.5 1589.1 L1627.1 1591.4 L1628.7 1593.9 L1630.3 1589 L1631.9 1586 L1633.5 1584.3 L1635.1 1587 L1636.7 1586.6 L1638.3 1587.2 L1639.9 1589.1 L1641.5 1586.4 L1643 1584.2 L1644.6 1581.1 L1646.2 1581.7 L1647.8 1583.7 L1649.4 1585.9 L1654.2 1569.9 L1657.4 1581.1 L1662.2 1568.3 L1663.8 1567.5 L1665.4 1568.6 L1667 1569.9 L1670.2 1558.7 L1671.8 1557.5 L1673.4 1555.6 L1676.6 1536.4 L1678.5 1535.9 L1685.3 1488.5 L1690.3 1474.9 L1693.7 1420.7 L1697.1 1376.6 L1701.2 1352.9 L1703.9 1285.1 L1707.3 1217.3 L1712.4 1166.4 L1714.7 1125.8 L1719.2 1081.7 L1722.5 1071.5 L1724.9 1024.1 L1727.6 996.5 L1731 1010.5 L1732.7 1010.7 L1734.4 1010.8 L1736.1 1010.5 L1739.5 1024.1 L1741.2 1023.7 L1742.9 1024.1 L1746.3 1088.5 L1750.7 1112.2 L1754.7 1169.8 L1759.8 1227.5 L1764.9 1278.3 L1770 1332.5 L1776.8 1376.6 L1781.9 1393.6 L1783.6 1393.9 L1785.2 1391.9 L1786.9 1390.2 L1790.3 1434.2 L1792 1436 L1793.7 1438 L1795.4 1441 L1797.1 1458 L1798.5 1460.9 L1799.9 1462.2 L1801.3 1463.8 L1802.8 1465.3 L1804.2 1465.8 L1805.6 1468.1 L1810 1480.9 L1814.4 1495.5 L1815.8 1496.8 L1817.3 1498 L1818.7 1499.8 L1821.6 1524.5 L1824.5 1507.1 L1826 1507.5 L1827.4 1506.2 L1828.9 1507.7 L1830.3 1508.2 L1831.8 1508.5 L1836.1 1521.6 L1837.6 1507.1 L1843.4 1530.3 L1844.9 1528.3 L1846.3 1524.5 L1847.8 1520.1 L1849.2 1522.1 L1850.7 1523.4 L1852.2 1524.2 L1853.6 1525.7 L1855 1528.7 L1856.5 1528.9 L1857.9 1530.8 L1859.4 1531.3 L1860.8 1531.3 L1862.3 1532.5 L1863.7 1534.7 L1868.1 1512.9 L1872.5 1528.9 L1875.4 1501.3 L1876.9 1497.9 L1878.3 1495 L1879.8 1492.1 L1881.2 1489.6 L1884.1 1472.2 L1887 1449 L1892.8 1431.5 L1895.7 1399.6 L1900.1 1388 L1903 1341.5 L1905.9 1312.4 L1910.2 1283.4 L1911.7 1239.8 L1914.6 1196.2 L1918.9 1184.6 L1921.9 1161.3 L1923.3 1160.7 L1924.8 1158.4 L1927.7 1117.8 L1929.3 1115.6 L1931 1114.7 L1932.7 1112.7 L1934.3 1110 L1939.3 1123.6 L1945.1 1158.4 L1949.5 1210.7 L1953.8 1234 L1958.2 1260.1 L1961.1 1289.2 L1966.9 1341.5 L1971.2 1373.4 L1972.7 1377.3 L1974.2 1379.3 L1975.6 1380.8 L1977.1 1385.1 L1981.4 1414.1 L1985.8 1437.3 L1987.2 1436.8 L1988.7 1436.7 L1990.1 1435.9 L1994.5 1463.5 L1995.9 1464.1 L1997.4 1465.3 L1998.8 1466.4 L2001.7 1488.2 L2003.2 1488.3 L2004.6 1487.6 L2006.1 1487.5 L2007.5 1487.5 L2009 1486.7 L2010.5 1488.3 L2011.9 1491.7 L2013.3 1495.2 L2014.8 1498.4 L2016.3 1500.5 L2017.7 1502.1 L2019.2 1504.2 L2020.6 1503.4 L2022.1 1502.8 L2023.5 1501.3 L2027.9 1515.8 L2029.4 1514.4 L2030.8 1513.4 L2032.3 1511 L2033.7 1509.1 L2035.2 1507.1 L2036.7 1506.9 L2038.1 1508.5 L2039.5 1510 L2041 1510 L2043.4 1527.6 L2044.8 1528.8 L2046.3 1531.1 L2047.7 1534.4 L2051.1 1507.1 L2052.5 1511.9 L2054 1514.2 L2055.4 1517.3 L2058.8 1532.7 L2060.5 1535.5 L2062.2 1537.8 L2063.9 1534.1 L2065.6 1529.2 L2067.3 1525.9 L2071.6 1539.5 L2075.9 1550.6 L2079.3 1541.2 L2080.8 1541.2 L2082.2 1543.2 L2083.7 1544.7 L2085.1 1545.6 L2086.6 1547 L2088 1549.5 L2089.5 1549.8 L2091 1547.8 L2092.5 1547.8 L2094.1 1546.5 L2095.6 1546 L2097.1 1546.5 L2098.6 1544.1 L2100.2 1543.2 L2101.7 1542.7 L2103.2 1541.2 L2108.3 1554.9 L2114.3 1537 L2119.4 1557.5 L2123.7 1544.7 L2125.1 1548 L2126.6 1552.1 L2128 1554.9 L2129.7 1553.9 L2131.4 1551.5 L2133.1 1548.1 L2134.6 1549.3 L2136.1 1551.2 L2137.6 1553.2 L2139.1 1554 L2144.2 1541.2 L2149.3 1554.9 L2152.7 1542.9 L2154.1 1543.1 L2155.5 1541.9 L2156.8 1542 L2158.2 1542.5 L2159.6 1541.2 L2168.1 1563.4 L2169.8 1559.6 L2171.5 1557.8 L2173.2 1554.9 L2174.9 1558.9 L2176.6 1562.6 L2180 1553.2 L2181.4 1552.5 L2182.8 1553.4 L2184.1 1552.7 L2185.5 1552.3 L2186.9 1551.5 L2189.4 1567.7 L2190.9 1565.4 L2192.4 1562 L2193.9 1558.6 L2195.4 1556.6 L2196.9 1556.5 L2198.3 1557.1 L2199.8 1558 L2201.3 1559.1 L2202.8 1559.3 L2204.2 1559.9 L2205.7 1560 L2209.1 1549.8 L2210.5 1548 L2211.8 1548.9 L2213.2 1549.7 L2214.5 1548.3 L2215.9 1548.1 L2217.3 1550.5 L2218.8 1551.9 L2220.2 1553 L2221.6 1553.3 L2223.1 1554.4 L2224.5 1556.6 L2226.2 1553.1 L2227.9 1549.3 L2229.6 1547.2 L2233.9 1560 L2235.3 1559.5 L2236.7 1558.1 L2238.1 1554.9 L2239.6 1551.7 L2241.1 1548.7 L2242.6 1545.2 L2244.1 1540.4 L2246.7 1561.7 L2248.4 1561.3 L2250.1 1561.2 L2251.8 1560 L2253.2 1558.2 L2254.5 1555.9 L2255.9 1553.9 L2257.2 1551.2 L2258.6 1549.8 L2260 1550.9 L2261.5 1551.7 L2262.9 1552.4 L2264.3 1554.1 L2265.8 1555.6 L2267.2 1554.9 L2268.6 1553.5 L2270 1552.1 L2271.4 1551.6 L2272.9 1550.3 L2274.3 1550 L2275.7 1549.8 L2277.1 1552.5 L2278.5 1552.9 L2279.9 1554.9 L2281.4 1557.4 L2282.8 1559.3 L2284.2 1560 L2285.6 1560.3 L2287.1 1561.3 L2288.5 1561.4 L2289.9 1560.5 L2291.4 1560.3 L2292.8 1560 L2296.2 1551.5 L2297.9 1553.8 L2299.6 1559.2 L2301.1 1558 L2302.5 1556.5 L2304 1554.4 L2305.5 1553 L2307 1551.2 L2308.4 1549.3 L2309.9 1548.1 L2311.3 1550.6 L2312.6 1554 L2314 1555.4 L2315.3 1557.1 L2316.7 1560 L2318.4 1555.2 L2320.1 1551.8 L2321.8 1549.8 L2323.2 1550.9 L2324.5 1552.1 L2325.9 1553.8 L2327.2 1555.8 L2328.6 1558.3 L2330 1556.7 L2331.4 1557 L2332.7 1556.5 L2334.1 1555.3 L2335.5 1556.6 L2337.1 1557.2 L2338.6 1557.6 L2340.2 1559.2 L2341.8 1559.6 L2343.3 1561.6 L2344.9 1562.6 L2346.5 1561.7 L2348 1561.7 L2349.6 1561.7 L2351.2 1560.5 L2352.7 1559.7 L2354.3 1560.9 L2355.7 1560.5 L2357 1559.9 L2358.4 1558.7 L2359.7 1556.7 L2361.1 1556.6 L2362.6 1555.1 L2364 1552.7 L2365.5 1551.8 L2366.9 1551.9 L2368.4 1550.3 L2369.8 1547.1 L2371.3 1546.4 L2372.7 1546.7 L2374.2 1548.2 L2375.6 1551 L2377 1554.2 L2378.5 1555.1 L2379.9 1556.6 L2381.3 1556.2 L2382.7 1554.7 L2384.2 1551.5 L2385.6 1548.6 L2387 1547.9 L2388.4 1546.4 L2391.8 1561.7 L2400.4 1537.8 L2406.3 1558.3 L2407.8 1556.9 L2409.3 1554.8 L2410.8 1552.3 L2412.3 1551.5 L2414 1553.7 L2415.8 1555.3 L2417.5 1557.5 L2419 1556" fill="none" stroke="#000" stroke-width="5" stroke-linejoin="round" stroke-linecap="round"/>
<path d="M94.2 1035 L102.3 1155.7 L111.3 1163.9 L121.1 1185.1 L130 1140.2 L139 1145.9 L148.9 1201.5 L157 1167.1 L166.8 1201.5 L175 1244 L184.8 1163 L193.8 1167.1 L204.4 1208 L211 1227.6 L220.8 1239.1 L229.8 1252.1 L238.8 1216.2 L248.6 1226.8 L266.6 1227.6 L275.5 1262 L283.7 1237.4 L291.9 1237.4 L301.7 1250 L310.5 1265 L316.8 1226.7 L320.5 1203.1 L323.9 1212.5 L329.6 1233.7 L336 1218.1 L340.3 1203.2 L342.4 1185.5 L346.6 1160.6 L356.8 1143.9 L366.6 1148.8 L373.9 1130 L383.8 1156.2 L394.4 1141.5 L400.9 1100.6 L411.5 1100.6 L418.9 1065.4 L429.5 1077.7 L436.1 1074.4 L446.7 1064.6 L455.7 1044.2 L464.7 1033.6 L473.7 1040.1 L483.5 1030.3 L491.7 1058.1 L501.5 1093.2 L509.6 1045 L519.4 1025.4 L528.4 990.2 L535.8 1058.1 L545.6 1071.2 L555.4 1081 L563.6 1098.1 L572.7 1114.4 L582.7 1058.1 L591.8 1092.6 L600.8 1024.5 L609.9 1096.2 L619 1085.3 L628.1 1112.6 L631.7 1138 L638.1 1166.2 L644.4 1158 L650.8 1159.8 L659 1174.3 L666.2 1199.7 L674.4 1217.9 L681.7 1204.3 L688 1214.3 L693.5 1230.6 L698.9 1257.9 L706.2 1272.4 L718.9 1283.3 L727.3 1277.3 L732.7 1296.3 L737.3 1312.7 L744.5 1332.6 L747.2 1337.2 L754.5 1333.5 L761.8 1365.3 L767.2 1387.1 L771.8 1403.5 L782.6 1394.4 L790.8 1379.8 L799 1392.6 L808.1 1395.3 L818.1 1394.4 L827.1 1414.4 L830.8 1450.7 L835.3 1481.5 L843.5 1482.4 L856.2 1492.4 L862.5 1503.3 L876.2 1502.4 L883.4 1514.2 L888.9 1550.5 L897 1561 L907.6 1526.8 L917.7 1539.4 L925.3 1569.8 L936 1579.9 L944.9 1551.4 L953.1 1569.8 L962 1581.8 L971.4 1573.6 L980.9 1603.9 L989.8 1592.5 L998.6 1590.6 L1006.8 1577.4 L1015.7 1602 L1026.4 1609 L1035.3 1587.5 L1045.4 1597.6 L1053 1606.4 L1062.5 1617.8 L1069.4 1602.6 L1079.5 1587.5 L1096 1590 L1107.4 1600.1 L1114.9 1593.8 L1124.4 1588.7 L1135.2 1605.2 L1143.4 1616.6 L1152.2 1601.4 L1161.1 1610.9 L1170.6 1574.2 L1177.5 1581.5" fill="none" stroke="#000" stroke-width="5" stroke-linejoin="round" stroke-linecap="round"/>
<path d="M292.7 1189 C296 1188.2 306.3 1186.1 312.6 1184.1 C318.9 1182.1 325 1179.5 330.3 1177 C335.6 1174.5 339.8 1171.6 344.5 1168.8 C349.2 1166 354 1163 358.7 1159.9 C363.4 1156.8 368.4 1153.9 372.9 1150 C377.3 1146.1 377.9 1143.5 385.4 1136.6 C392.9 1129.7 407.2 1118.1 418.1 1108.8 C429 1099.5 439.9 1089 450.8 1081 C461.7 1073 474 1065.5 483.5 1060.5 C493 1055.5 499.8 1052.6 508 1050.7 C516.2 1048.8 525.5 1048.9 532.5 1049.1 C539.5 1049.3 541.6 1048.5 550 1051.8 C558.4 1055.1 572.7 1061.3 582.7 1069 C592.7 1076.7 601.7 1088.4 609.9 1098.1 C618.1 1107.8 623.5 1114.4 631.7 1127.1 C639.9 1139.8 651.4 1160.7 659 1174.3 C666.6 1187.9 671.1 1197.3 677.1 1208.8 C683.1 1220.3 688.1 1229.4 695.3 1243.3 C702.4 1257.2 711.4 1276.2 720 1292 C728.6 1307.8 738.1 1322.5 747.2 1338.1 C756.3 1353.6 765.4 1370.8 774.5 1385.3 C783.6 1399.8 792.6 1413.7 801.7 1425.2 C810.8 1436.7 818.4 1444 829 1454.3 C839.6 1464.6 853.2 1477.3 865.3 1487 C877.4 1496.7 889.5 1504.5 901.6 1512.4 C913.7 1520.3 923.4 1526.2 937.9 1534.2 C952.4 1542.2 972.4 1551.9 988.7 1560.2 C1005 1568.5 1028 1580 1035.9 1584" fill="none" stroke="#ff0000" stroke-width="4.2" stroke-linecap="round"/>
<path d="M292 1196.8 C296.6 1196.5 311.5 1195.4 319.7 1194.7 C327.9 1194 333.9 1193.4 341 1192.6 C348.1 1191.8 355.2 1191.2 362.3 1190.1 C369.4 1189 376.5 1187 383.6 1186.2 C390.7 1185.4 397.1 1185 404.8 1185.1 C412.5 1185.2 422.3 1185.5 430 1186.9 C437.7 1188.4 442.5 1189.8 450.8 1193.8 C459.1 1197.8 470.1 1204.3 480 1211.2 C489.9 1218.1 500.2 1225.8 510.3 1235.4 C520.4 1245 530.4 1257.6 540.5 1268.7 C550.6 1279.8 560.7 1291.2 570.8 1302 C580.9 1312.8 591 1324 601.1 1333.8 C611.2 1343.6 621.2 1352.4 631.3 1361 C641.4 1369.6 651.5 1377.4 661.6 1385.2 C671.7 1393 681.8 1401.1 691.9 1407.9 C702 1414.7 712.9 1420.5 722.1 1426.1 C731.3 1431.7 738.5 1436.3 747.2 1441.6 C755.9 1446.9 765.4 1452.8 774.5 1457.9 C783.6 1463.1 792.6 1468 801.7 1472.5 C810.8 1477 818.4 1480.2 829 1485.2 C839.6 1490.2 853.2 1496.7 865.3 1502.4 C877.4 1508.2 889.5 1513.7 901.6 1519.7 C913.7 1525.7 923.4 1531.8 937.9 1538.6 C952.4 1545.4 972.4 1553.1 988.7 1560.6 C1005 1568.1 1028 1579.8 1035.9 1583.6" fill="none" stroke="#0000ff" stroke-width="4.2" stroke-linecap="round"/>
<path d="M292.7 1228.8 C296 1229.7 305.7 1232.7 312.6 1234.1 C319.5 1235.5 328 1236.6 333.9 1237.3 C339.8 1238 342.2 1238.4 348.1 1238.4 C354 1238.4 362.9 1238.1 369.4 1237.3 C375.9 1236.5 381.2 1235.3 387.1 1233.7 C393 1232.1 399.5 1229.8 404.8 1227.4 C410.1 1225.1 414.8 1222 419 1219.6 C423.2 1217.2 423.9 1217.2 430 1213.2 C436.1 1209.2 445.4 1203.8 455.7 1195.4 C466 1187 480.3 1171.7 491.7 1162.7 C503.1 1153.7 514.6 1147 524.3 1141.5 C534 1136 542.1 1132.3 550 1129.8 C557.9 1127.2 564.2 1125.7 571.8 1126.2 C579.4 1126.7 586.9 1128.2 595.4 1132.6 C603.9 1137 615 1145.5 622.6 1152.5 C630.2 1159.5 633.2 1164.3 640.8 1174.3 C648.4 1184.3 658.9 1198.6 668 1212.5 C677.1 1226.4 686.6 1242.7 695.3 1257.9 C704 1273.1 711.4 1288.4 720 1303.6 C728.6 1318.8 738.1 1334.2 747.2 1349 C756.3 1363.8 765.4 1379 774.5 1392.6 C783.6 1406.2 792.6 1419.8 801.7 1430.7 C810.8 1441.6 818.4 1447.9 829 1457.9 C839.6 1467.9 853.2 1480.9 865.3 1490.6 C877.4 1500.3 889.5 1508.2 901.6 1516 C913.7 1523.8 923.4 1529.5 937.9 1537.2 C952.4 1544.9 972.4 1554.4 988.7 1562.4 C1005 1570.4 1028 1581.4 1035.9 1585.2" fill="none" stroke="#ff00ff" stroke-width="4.2" stroke-linecap="round"/>
<path d="M334.7 1100.6 L398.3 1159.3" stroke="#000" stroke-width="4" stroke-linecap="round" fill="none"/>
<path d="M411.5 1171.5 L392.1 1163.1 L401.6 1152.8 Z" fill="#000" stroke="#000" stroke-width="1.5" stroke-linejoin="round"/>
<path d="M678.9 1102.6 L613.6 1121.8" stroke="#000" stroke-width="4" stroke-linecap="round" fill="none"/>
<path d="M595.4 1127.1 L613.7 1115 L617.4 1127.4 Z" fill="#000" stroke="#000" stroke-width="1.5" stroke-linejoin="round"/>
</svg></body></html>
